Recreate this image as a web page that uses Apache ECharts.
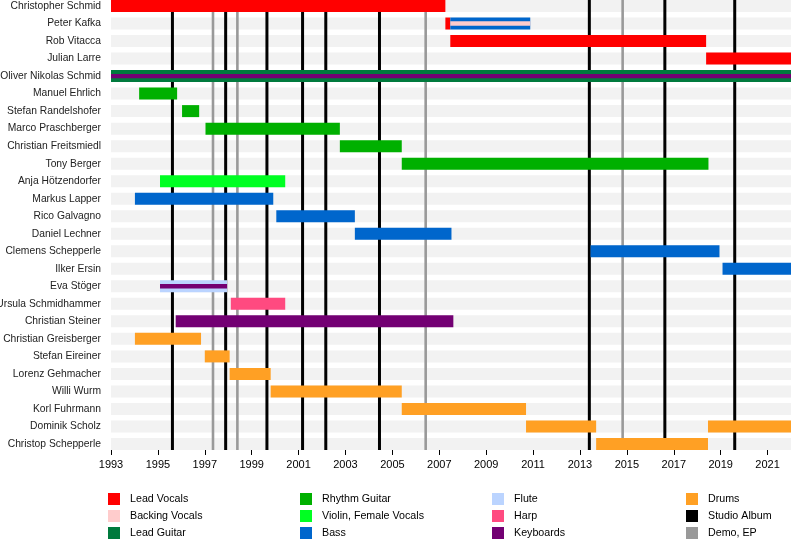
<!DOCTYPE html>
<html>
<head>
<meta charset="utf-8">
<title>Band timeline</title>
<script src="https://cdn.jsdelivr.net/npm/echarts@6/dist/echarts.min.js"></script>
<style>
    html, body { margin: 0; padding: 0; background: #fff; }
    #chart { width: 800px; height: 550px; }
</style>
</head>
<body>
<div id="chart"></div>
<script>
// members, top to bottom
var members = ['Christopher Schmid', 'Peter Kafka', 'Rob Vitacca', 'Julian Larre', 'Oliver Nikolas Schmid',
    'Manuel Ehrlich', 'Stefan Randelshofer', 'Marco Praschberger', 'Christian Freitsmiedl', 'Tony Berger',
    'Anja Hötzendorfer', 'Markus Lapper', 'Rico Galvagno', 'Daniel Lechner', 'Clemens Schepperle',
    'Ilker Ersin', 'Eva Stöger', 'Ursula Schmidhammer', 'Christian Steiner', 'Christian Greisberger',
    'Stefan Eireiner', 'Lorenz Gehmacher', 'Willi Wurm', 'Korl Fuhrmann', 'Dominik Scholz',
    'Christop Schepperle'];

// [member, from, to]
var leadVocals = [['Christopher Schmid', 1993, 2007.26], ['Peter Kafka', 2007.26, 2007.47],
    ['Rob Vitacca', 2007.47, 2018.38], ['Julian Larre', 2018.38, 2022]];
var backingVocals = [['Peter Kafka', 2007.47, 2010.88]];
var leadGuitar = [['Oliver Nikolas Schmid', 1993, 2022]];
var rhythmGuitar = [['Manuel Ehrlich', 1994.2, 1995.82], ['Stefan Randelshofer', 1996.03, 1996.76],
    ['Marco Praschberger', 1997.03, 2002.76], ['Christian Freitsmiedl', 2002.76, 2005.4],
    ['Tony Berger', 2005.4, 2018.48]];
var violin = [['Anja Hötzendorfer', 1995.09, 2000.43]];
var bass = [['Peter Kafka', 2007.47, 2010.88], ['Markus Lapper', 1994.02, 1999.92],
    ['Rico Galvagno', 2000.05, 2003.4], ['Daniel Lechner', 2003.4, 2007.52],
    ['Clemens Schepperle', 2013.45, 2018.95], ['Ilker Ersin', 2019.08, 2022]];
var flute = [['Eva Stöger', 1995.09, 1997.95]];
var harp = [['Ursula Schmidhammer', 1998.11, 2000.43]];
var keyboards = [['Oliver Nikolas Schmid', 1993, 2022], ['Eva Stöger', 1995.09, 1997.95],
    ['Christian Steiner', 1995.76, 2007.6]];
var drums = [['Christian Greisberger', 1994.02, 1996.84], ['Stefan Eireiner', 1997.0, 1998.06],
    ['Lorenz Gehmacher', 1998.06, 1999.81], ['Willi Wurm', 1999.81, 2005.4],
    ['Korl Fuhrmann', 2005.4, 2010.7], ['Dominik Scholz', 2010.7, 2013.69],
    ['Dominik Scholz', 2018.46, 2022], ['Christop Schepperle', 2013.69, 2018.46]];

var studioAlbums = [1995.62, 1997.89, 1999.65, 2001.17, 2002.16, 2004.45, 2013.40, 2016.62, 2019.60];
var demos = [1997.35, 1998.39, 2006.42, 2014.82];

var yearTicks = [1993, 1995, 1997, 1999, 2001, 2003, 2005, 2007, 2009, 2011, 2013, 2015, 2017, 2019, 2021];
var yearRange = [1993, 2022];

var BAR = 0.685; // bar height as share of the row
var THIN = 0.25; // inner stripe when drawn over another bar

var fullRoles = [leadVocals, leadGuitar, rhythmGuitar, violin, bass, flute, harp, drums];

// a secondary role is a thin stripe where the member already has a bar
function overlaps(r) {
    return fullRoles.some(function (role) {
        return role.some(function (o) {
            return o[0] === r[0] && o[1] < r[2] && o[2] > r[1];
        });
    });
}

function barSeries(name, color, rows, stripe) {
    return {
        type: 'custom',
        name: name,
        z: stripe ? 4 : 3,
        itemStyle: { color: color },
        encode: { x: [1, 2], y: 0 },
        data: rows.map(function (r) {
            return [members.indexOf(r[0]), r[1], r[2], stripe && overlaps(r) ? 1 : 0];
        }),
        renderItem: function (params, api) {
            var row = api.value(0);
            var a = api.coord([api.value(1), row]);
            var b = api.coord([api.value(2), row]);
            var h = api.size([0, 1])[1] * (api.value(3) ? THIN : BAR);
            return {
                type: 'rect',
                shape: { x: a[0], y: a[1] - h / 2, width: b[0] - a[0], height: h },
                style: { fill: color }
            };
        }
    };
}

function lineSeries(name, color, width, years) {
    return {
        type: 'custom',
        name: name,
        z: 2,
        itemStyle: { color: color },
        encode: { x: 0, y: 1 },
        data: years.map(function (y) { return [y, 0]; }),
        renderItem: function (params, api) {
            var x = api.coord([api.value(0), 0])[0];
            var bottom = api.coord([api.value(0), members.length - 1])[1] + api.size([0, 1])[1] * BAR / 2;
            return {
                type: 'line',
                shape: { x1: x, y1: params.coordSys.y, x2: x, y2: bottom },
                style: { stroke: color, lineWidth: width }
            };
        }
    };
}

var bands = {
    type: 'custom',
    silent: true,
    z: 1,
    encode: { x: 0, y: 1 },
    data: members.map(function (m, i) { return [yearRange[0], i]; }),
    renderItem: function (params, api) {
        var a = api.coord([yearRange[0], api.value(1)]);
        var b = api.coord([yearRange[1], api.value(1)]);
        var h = api.size([0, 1])[1] * BAR;
        return {
            type: 'rect',
            shape: { x: a[0], y: a[1] - h / 2, width: b[0] - a[0], height: h },
            style: { fill: '#f2f2f2' }
        };
    }
};

function legendCol(left, names) {
    return {
        data: names,
        orient: 'vertical',
        left: left,
        top: 493,
        icon: 'rect',
        itemWidth: 12,
        itemHeight: 12,
        itemGap: 5,
        selectedMode: false,
        padding: 0,
        textStyle: { fontFamily: 'Liberation Sans', fontSize: 10.7, color: '#000', padding: [0, 0, 0, 5] }
    };
}

var myChart = echarts.init(document.getElementById('chart'));

var option = {
    animation: false,
    backgroundColor: '#fff',
    grid: { left: 111, right: 9, top: -2.76, height: 455.5, containLabel: false, outerBoundsMode: 'none' },
    xAxis: {
        type: 'value',
        min: yearRange[0],
        max: yearRange[1],
        offset: -2.76,
        axisLine: { lineStyle: { color: '#000', width: 1 } },
        axisTick: { show: true, length: 5, customValues: yearTicks, lineStyle: { color: '#000' } },
        axisLabel: {
            customValues: yearTicks, margin: 9, fontFamily: 'Liberation Sans', fontSize: 11, color: '#000',
            formatter: function (v) { return String(v); }
        },
        splitLine: { show: false }
    },
    yAxis: {
        type: 'category',
        inverse: true,
        data: members,
        axisLine: { show: false },
        axisTick: { show: false },
        axisLabel: { interval: 0, margin: 10, fontFamily: 'Liberation Sans', fontSize: 10.3, color: '#222' }
    },
    legend: [
        legendCol(108, ['Lead Vocals', 'Backing Vocals', 'Lead Guitar']),
        legendCol(300, ['Rhythm Guitar', 'Violin, Female Vocals', 'Bass']),
        legendCol(492, ['Flute', 'Harp', 'Keyboards']),
        legendCol(686, ['Drums', 'Studio Album', 'Demo, EP'])
    ],
    series: [
        bands,
        lineSeries('Studio Album', '#000000', 3, studioAlbums),
        lineSeries('Demo, EP', '#999999', 2.6, demos),
        barSeries('Lead Vocals', '#ff0000', leadVocals),
        barSeries('Backing Vocals', '#ffcccc', backingVocals, true),
        barSeries('Lead Guitar', '#007a3d', leadGuitar),
        barSeries('Rhythm Guitar', '#00b000', rhythmGuitar),
        barSeries('Violin, Female Vocals', '#00ff22', violin),
        barSeries('Bass', '#0066cc', bass),
        barSeries('Flute', '#bbd4ff', flute),
        barSeries('Harp', '#ff4a80', harp),
        barSeries('Keyboards', '#730073', keyboards, true),
        barSeries('Drums', '#ffa024', drums)
    ]
};
myChart.setOption(option);
</script>
</body>
</html>
